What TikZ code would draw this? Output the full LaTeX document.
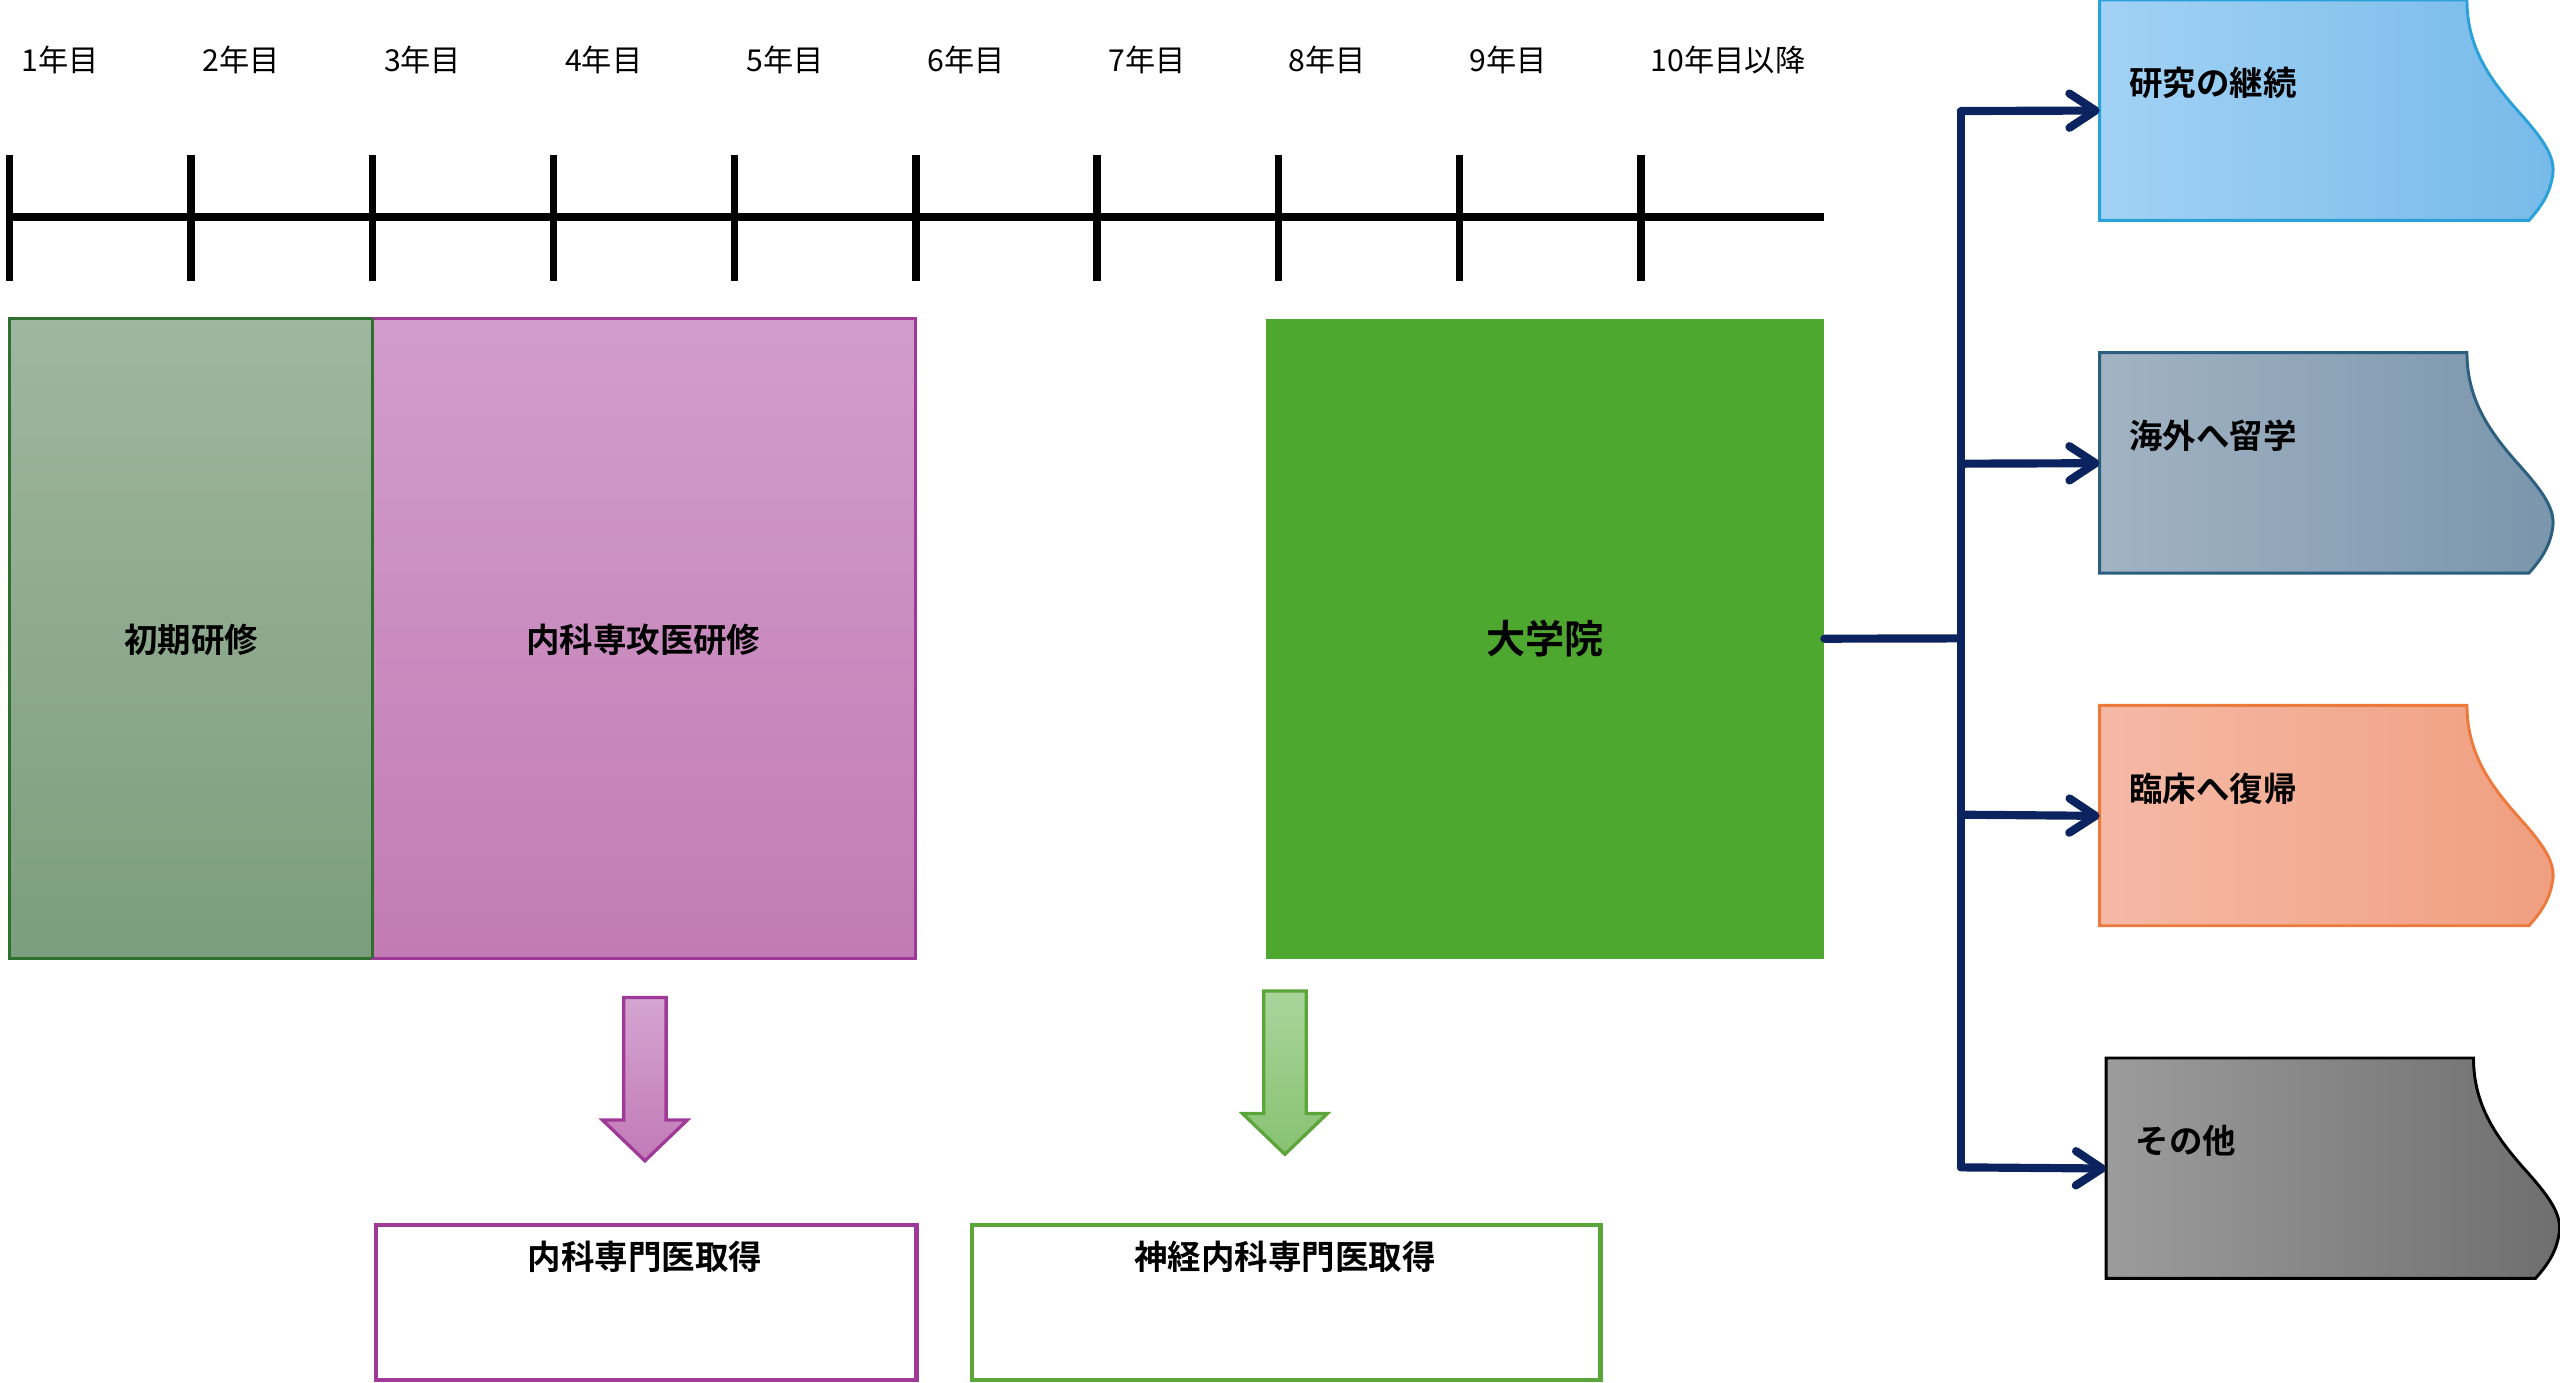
\documentclass[tikz,border=0pt]{standalone}
\usepackage{fontspec}
\setmainfont{Noto Sans CJK JP}[BoldFont={Noto Sans CJK JP Bold}]
\usetikzlibrary{arrows.meta}
\definecolor{navy}{HTML}{0B2460}
\definecolor{pborder}{HTML}{A03A98}
\definecolor{gborder}{HTML}{5BA53A}
\definecolor{dgborder}{HTML}{2E7030}
\definecolor{gtop}{HTML}{9FB69F}
\definecolor{gbot}{HTML}{7C9E7C}
\definecolor{ptop}{HTML}{D29DCA}
\definecolor{pbot}{HTML}{C27BB5}
\definecolor{daigreen}{HTML}{4EA72E}
\definecolor{patop}{HTML}{D4A4D0}
\definecolor{pabot}{HTML}{C27AB7}
\definecolor{gatop}{HTML}{A9D59B}
\definecolor{gabot}{HTML}{88C272}
\definecolor{bluel}{HTML}{A2D2F5}
\definecolor{bluer}{HTML}{77BAE9}
\definecolor{blueb}{HTML}{2AA1D9}
\definecolor{slatel}{HTML}{A2B3C3}
\definecolor{slater}{HTML}{7A95AC}
\definecolor{slateb}{HTML}{2B5F80}
\definecolor{salml}{HTML}{F5B9A6}
\definecolor{salmr}{HTML}{F09F80}
\definecolor{salmb}{HTML}{EC7A3C}
\definecolor{greyl}{HTML}{9C9C9C}
\definecolor{greyr}{HTML}{6E6E6E}
\tikzset{
  yearlbl/.style={anchor=west, inner sep=0pt, font=\fontsize{18.5}{20}\selectfont},
  boxlbl/.style={inner sep=0pt, font=\fontsize{20.5}{22}\selectfont\bfseries},
  tickline/.style={line width=4.5pt},
  conn/.style={draw=navy, line width=5pt, line cap=round, line join=round},
  connarrow/.style={conn, -{Straight Barb[length=16pt, width=21pt, line cap=round, line join=round]}},
  anchorbox/.style={draw=none, minimum width=277pt, minimum height=135pt, inner sep=0pt, anchor=north west},
  resbox/.style={line width=2.6pt, fill=white, minimum height=95pt, inner sep=0pt, anchor=north west},
}
\newcommand{\wavepath}{(0,0) -- (225,0) .. controls (225,30) and (240,50) .. (258,70) .. controls (274,88) and (280,98) .. (277,110) .. controls (275,120) and (270,127) .. (263,135) -- (0,135) -- cycle}
\begin{document}
\begin{tikzpicture}[x=1pt, y=-1pt]
\useasboundingbox (0,0) rectangle (1568,847);

% timeline
\coordinate (tlA) at (5,133);
\coordinate (tlB) at (1117,133);
\draw[line width=5.2pt] (tlA) -- (tlB);
\foreach \i in {0,...,9} {
  \draw[tickline] ({6+111*\i},95) -- ({6+111*\i},172);
}
\node[yearlbl] (y1) at (13,37) {1年目};
\node[yearlbl] (y2) at (124,37) {2年目};
\node[yearlbl] (y3) at (235,37) {3年目};
\node[yearlbl] (y4) at (346,37) {4年目};
\node[yearlbl] (y5) at (457,37) {5年目};
\node[yearlbl] (y6) at (568,37) {6年目};
\node[yearlbl] (y7) at (679,37) {7年目};
\node[yearlbl] (y8) at (789,37) {8年目};
\node[yearlbl] (y9) at (900,37) {9年目};
\node[yearlbl] (y10) at (1011,37) {10年目以降};

% phase boxes
\shade[top color=gtop, bottom color=gbot] (6,195) rectangle (228,587);
\draw[draw=dgborder, line width=1.8pt] (6,195) rectangle (228,587);
\node[boxlbl] (shoki) at (117,392) {初期研修};

\shade[top color=ptop, bottom color=pbot] (228,195) rectangle (561,587);
\draw[draw=pborder, line width=1.8pt] (228,195) rectangle (561,587);
\draw[draw=dgborder, line width=1.8pt] (228,195) -- (228,587);
\node[boxlbl] (naika) at (394,392) {内科専攻医研修};

\node[fill=daigreen, draw=none, minimum width=342pt, minimum height=392pt, inner sep=0pt, anchor=north west] (dai) at (775,195) {};
\node[inner sep=0pt, font=\fontsize{24}{26}\selectfont\bfseries] (daiT) at (dai.center) {大学院};

% block arrows
\shade[top color=patop, bottom color=pabot] (382,611) -- (408,611) -- (408,686) -- (421,686) -- (395,711) -- (369,686) -- (382,686) -- cycle;
\draw[draw=pborder, line width=2pt, line join=miter] (382,611) -- (408,611) -- (408,686) -- (421,686) -- (395,711) -- (369,686) -- (382,686) -- cycle;
\shade[top color=gatop, bottom color=gabot] (774,607) -- (800,607) -- (800,682) -- (813,682) -- (787,707) -- (761,682) -- (774,682) -- cycle;
\draw[draw=gborder, line width=2pt, line join=miter] (774,607) -- (800,607) -- (800,682) -- (813,682) -- (787,707) -- (761,682) -- (774,682) -- cycle;

% result boxes
\node[resbox, draw=pborder, minimum width=331pt] (senmon) at (229,749) {};
\node[boxlbl] (senmonT) at (395,770) {内科専門医取得};
\node[resbox, draw=gborder, minimum width=385pt] (shinkei) at (594,749) {};
\node[boxlbl] (shinkeiT) at (787,770) {神経内科専門医取得};

% wave boxes
\begin{scope}[shift={(1286,0)}]
  \shade[left color=bluel, right color=bluer] \wavepath;
  \draw[draw=blueb, line width=1.8pt] \wavepath;
\end{scope}
\node[anchorbox] (r1) at (1286,0) {};
\node[boxlbl, anchor=west] (r1T) at (1304,51) {研究の継続};

\begin{scope}[shift={(1286,216)}]
  \shade[left color=slatel, right color=slater] \wavepath;
  \draw[draw=slateb, line width=1.8pt] \wavepath;
\end{scope}
\node[anchorbox] (r2) at (1286,216) {};
\node[boxlbl, anchor=west] (r2T) at (1304,267) {海外へ留学};

\begin{scope}[shift={(1286,432)}]
  \shade[left color=salml, right color=salmr] \wavepath;
  \draw[draw=salmb, line width=1.8pt] \wavepath;
\end{scope}
\node[anchorbox] (r3) at (1286,432) {};
\node[boxlbl, anchor=west] (r3T) at (1304,483) {臨床へ復帰};

\begin{scope}[shift={(1290,648)}]
  \shade[left color=greyl, right color=greyr] \wavepath;
  \draw[draw=black, line width=1.8pt] \wavepath;
\end{scope}
\node[anchorbox] (r4) at (1290,648) {};
\node[boxlbl, anchor=west] (r4T) at (1308,699) {その他};

% connectors
\coordinate (jn) at (1201,391);
\coordinate (j1) at (1201,68);
\coordinate (j2) at (1201,284);
\coordinate (j3) at (1201,499);
\coordinate (j4) at (1201,715);
\draw[conn] (dai.east) -- (jn);
\draw[conn, line cap=butt] (j1) -- (j4);
\draw[connarrow] (j1) -- (r1.west);
\draw[connarrow] (j2) -- (r2.west);
\draw[connarrow] (j3) -- (r3.west);
\draw[connarrow] (j4) -- (r4.west);
\end{tikzpicture}
\end{document}
